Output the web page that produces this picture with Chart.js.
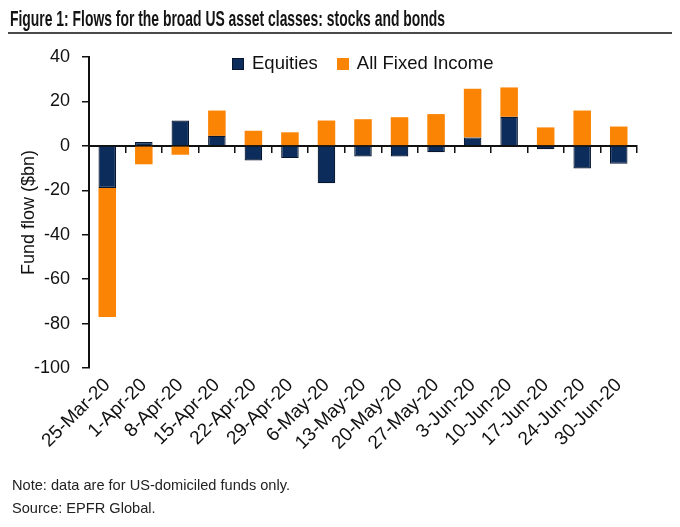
<!DOCTYPE html>
<html><head><meta charset="utf-8">
<script src="https://cdn.jsdelivr.net/npm/chart.js@4.4.1/dist/chart.umd.min.js"></script>
<style>
html,body{margin:0;padding:0;background:#fff;}
#wrap{position:relative;width:680px;height:527px;overflow:hidden;font-family:'Liberation Sans',Arial,sans-serif;color:#111;}
#title{position:absolute;left:10px;top:6px;font-weight:bold;font-size:22px;white-space:nowrap;transform-origin:left top;color:#141414;}
#rule{position:absolute;left:8px;top:32px;width:664px;height:0;border-top:2px solid #4a4a4a;}
canvas{position:absolute;left:0;top:0;}
#legend{position:absolute;top:52px;left:232px;display:flex;align-items:center;white-space:nowrap;font-size:18.5px;color:#111;}
#legend .item{display:flex;align-items:center;margin-right:19px;}
#legend .box{width:12px;height:12px;margin-right:8px;margin-top:2px;box-sizing:border-box;}
.note{position:absolute;left:12px;font-size:15px;white-space:nowrap;transform-origin:left top;color:#222;}
</style></head>
<body>
<div id="wrap">
  <canvas id="c" width="680" height="527"></canvas>
  <div id="title">Figure 1: Flows for the broad US asset classes: stocks and bonds</div>
  <div id="rule"></div>
  <div id="legend"></div>
  <div class="note" id="note1" style="top:476px">Note: data are for US-domiciled funds only.</div>
  <div class="note" id="note2" style="top:499px">Source: EPFR Global.</div>
</div>
<script>
const categories = ['25-Mar-20','1-Apr-20','8-Apr-20','15-Apr-20','22-Apr-20','29-Apr-20','6-May-20','13-May-20','20-May-20','27-May-20','3-Jun-20','10-Jun-20','17-Jun-20','24-Jun-20','30-Jun-20'];
const equities = [-19, 1.7, 11.4, 4.5, -6.6, -5.5, -16.8, -4.8, -4.8, -2.9, 3.8, 13.1, -1.5, -10.2, -8.1];
const fixedIncome = [-58, -8.3, -4, 11.4, 6.8, 6.1, 11.4, 12, 12.9, 14.3, 21.9, 13.2, 8.3, 15.9, 8.7];
const yTicks = [-100, -80, -60, -40, -20, 0, 20, 40];

const FONT = "'Liberation Sans',Arial,sans-serif";
Chart.defaults.font.family = FONT;
Chart.defaults.color = '#111';

const navy = '#0c2c5c', navyEdge = '#06152e', orange = '#fb8405';

const chart = new Chart(document.getElementById('c'), {
  type: 'bar',
  data: {
    labels: categories,
    datasets: [
      {label: 'Equities', data: equities, backgroundColor: navy, borderColor: navyEdge, borderWidth: 1.2, barPercentage: 0.48, categoryPercentage: 1},
      {label: 'All Fixed Income', data: fixedIncome, backgroundColor: orange, borderWidth: 0, barPercentage: 0.48, categoryPercentage: 1}
    ]
  },
  options: {
    responsive: false,
    animation: false,
    devicePixelRatio: 1,
    layout: {padding: {left: 0, right: 43, top: 57, bottom: 59}},
    plugins: {legend: {display: false}, tooltip: {enabled: false}},
    scales: {
      x: {
        type: 'category',
        stacked: true,
        position: {y: 0},
        offset: true,
        ticks: {display: false},
        grid: {display: true, drawOnChartArea: false, drawTicks: true, tickLength: 6, offset: true, color: '#111', lineWidth: 1.5},
        border: {display: true, color: '#111', width: 2},
        afterFit: s => { s.height = 0; }
      },
      x2: {
        type: 'category',
        position: 'bottom',
        offset: true,
        grid: {display: false, drawTicks: false},
        border: {display: false},
        ticks: {autoSkip: false, maxRotation: 45, minRotation: 45, padding: 6, font: {size: 19}, color: '#111'},
        afterFit: s => { s.height = 100; }
      },
      y: {
        stacked: true,
        min: -100, max: 40,
        afterBuildTicks: s => { s.ticks = yTicks.map(v => ({value: v})); },
        ticks: {font: {size: 18}, color: '#111', padding: 12},
        grid: {display: true, drawOnChartArea: false, drawTicks: true, tickLength: 7, color: '#111', lineWidth: 1.5},
        border: {display: true, color: '#111', width: 2},
        title: {display: true, text: 'Fund flow ($bn)', font: {size: 18}, color: '#111', padding: {top: 18, bottom: 0}},
        afterFit: s => { s.width = 89; }
      }
    }
  }
});

// HTML legend built from the chart's datasets
const leg = document.getElementById('legend');
chart.data.datasets.forEach(ds => {
  const it = document.createElement('div'); it.className = 'item';
  const b = document.createElement('span'); b.className = 'box';
  b.style.background = ds.backgroundColor;
  if (ds.borderWidth) b.style.border = '1px solid ' + ds.borderColor;
  const t = document.createElement('span'); t.textContent = ds.label;
  it.appendChild(b); it.appendChild(t); leg.appendChild(it);
});

function fitWidth(el, target) {
  const w = el.getBoundingClientRect().width;
  const k = target / w;
  el.style.transform = 'scaleX(' + k + ')';
  return k;
}
fitWidth(document.getElementById('title'), 435);
const k = fitWidth(document.getElementById('note1'), 278);
document.getElementById('note2').style.transform = 'scaleX(' + k + ')';
</script>
</body></html>
